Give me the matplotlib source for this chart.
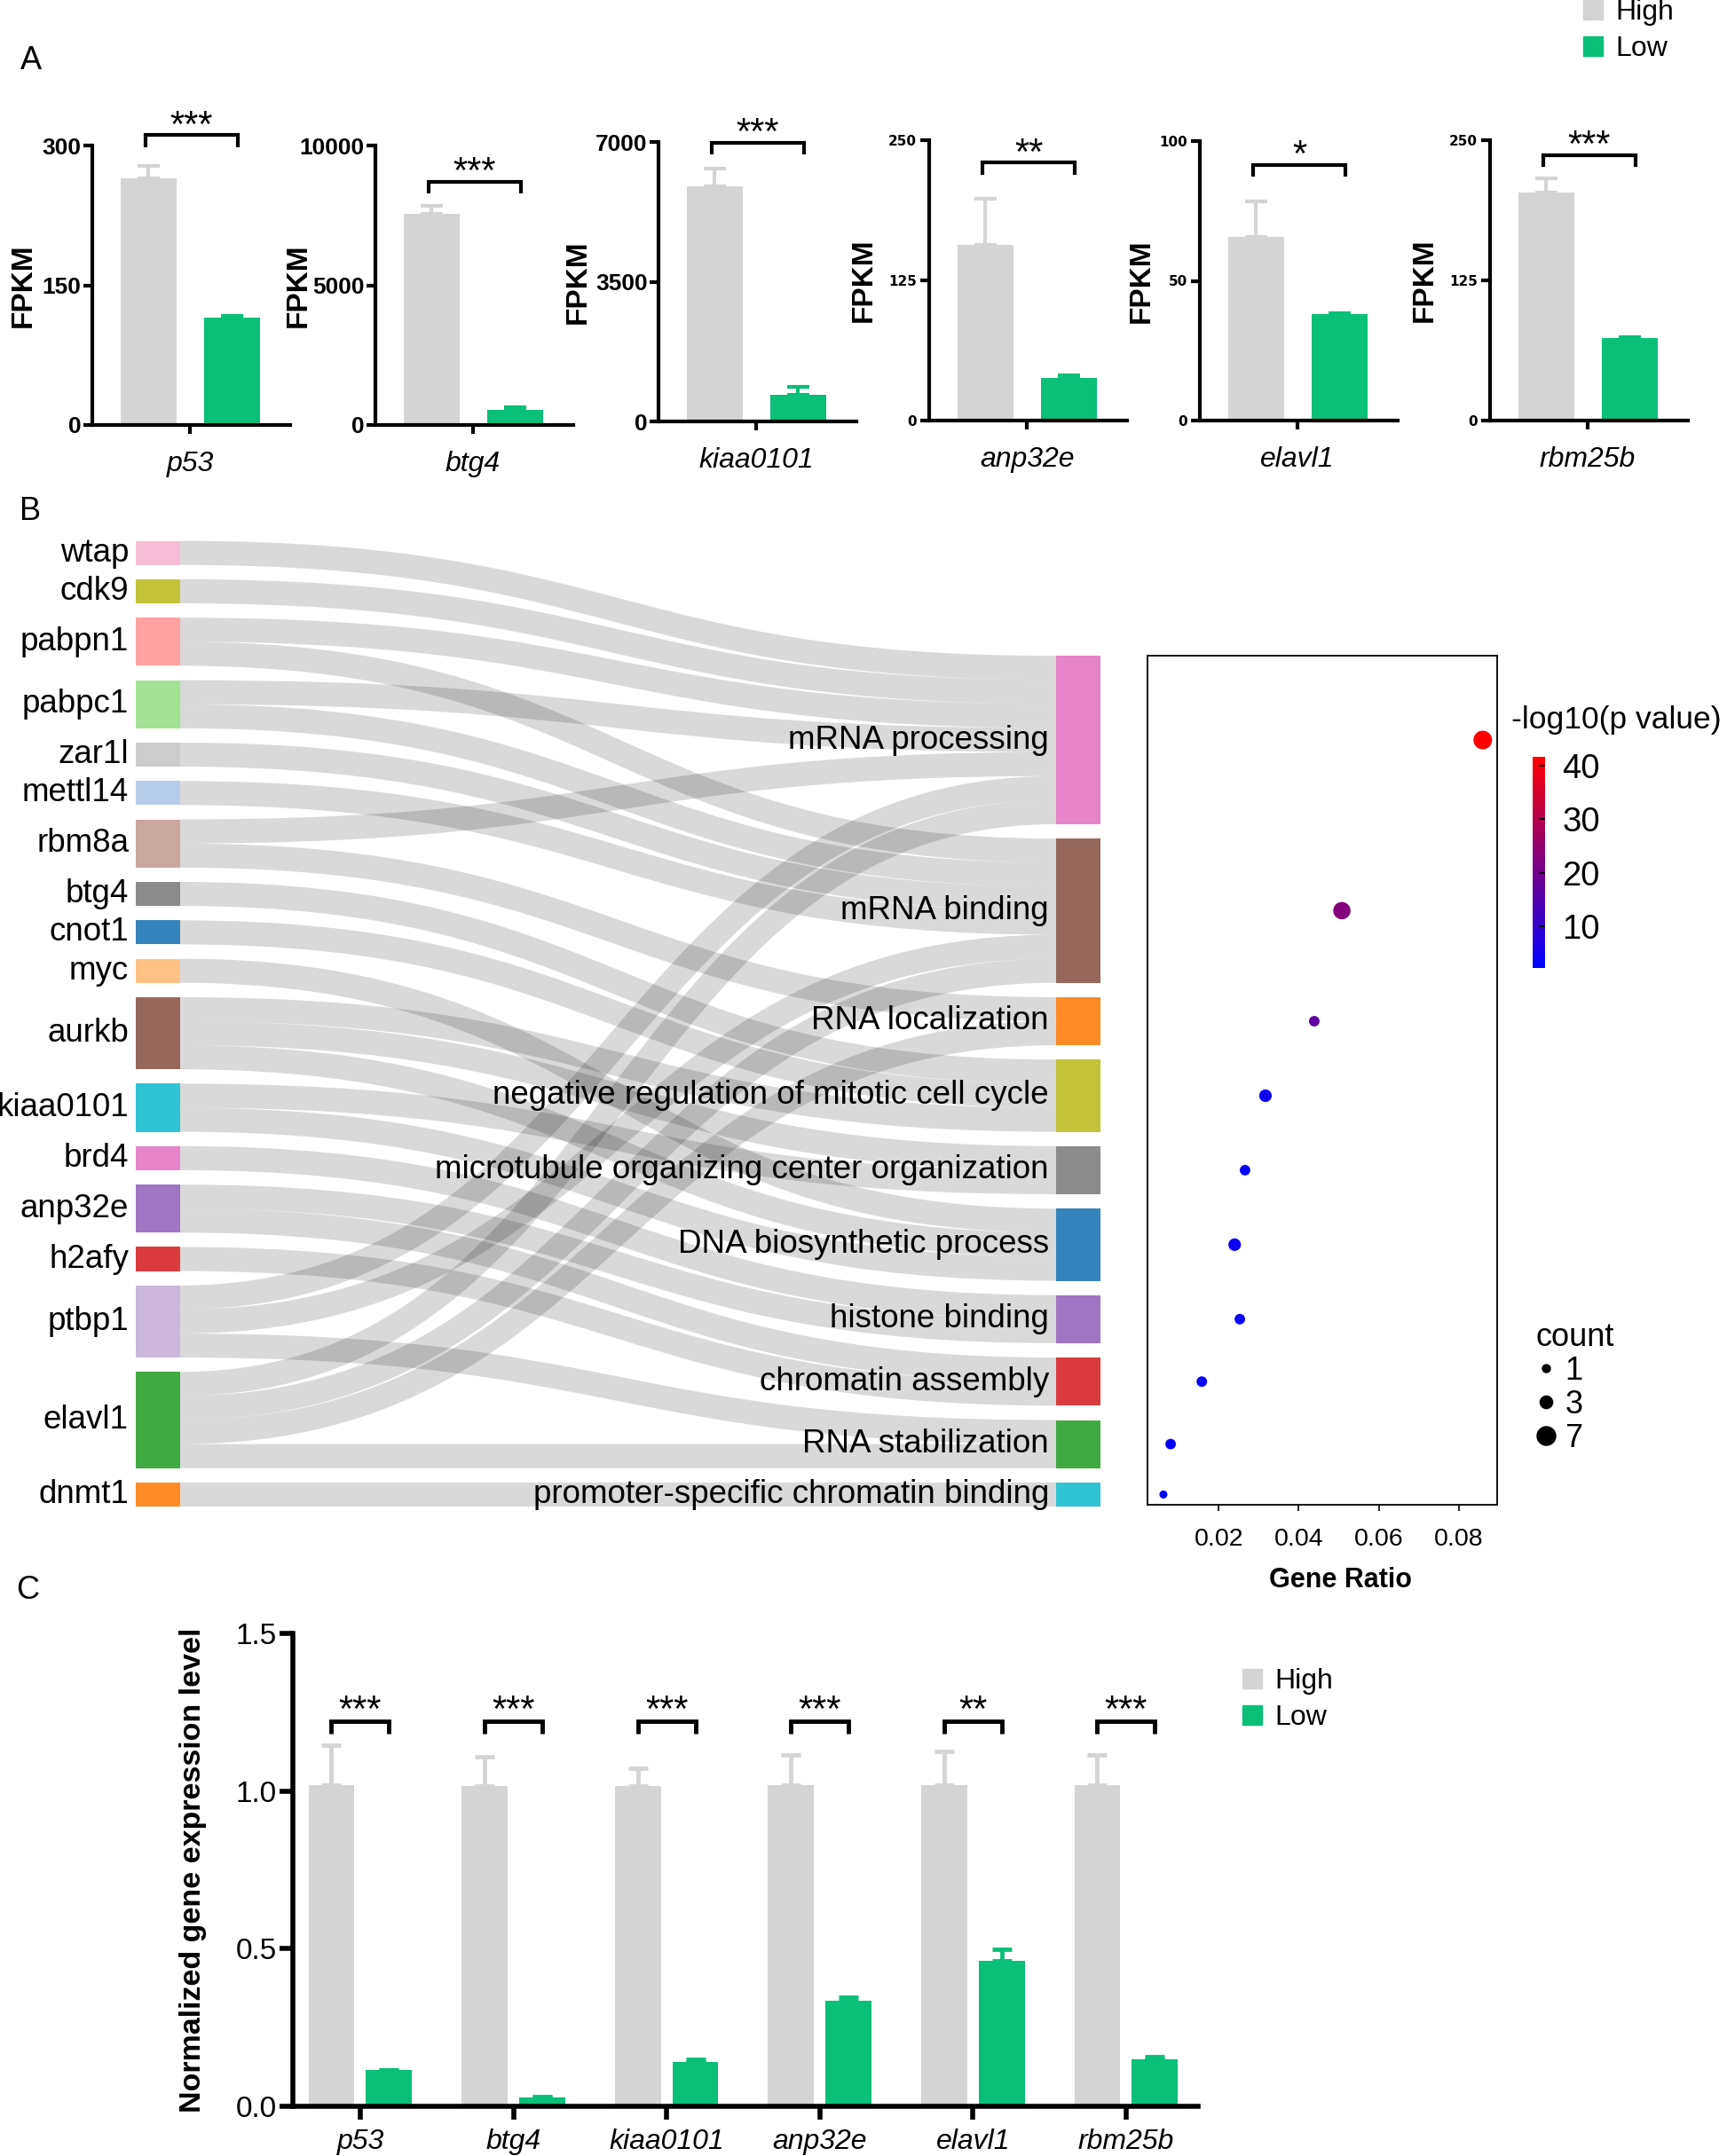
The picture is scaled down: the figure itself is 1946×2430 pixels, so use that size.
import numpy as np
import matplotlib
matplotlib.use("Agg")
import matplotlib.pyplot as plt
from matplotlib import font_manager
from matplotlib.path import Path
from matplotlib.patches import PathPatch, Rectangle, Patch
from matplotlib.lines import Line2D
from matplotlib.colors import LinearSegmentedColormap, Normalize
import matplotlib.colorbar as mcolorbar

# ---------------------------------------------------------------- data
genes = ["p53", "btg4", "kiaa0101", "anp32e", "elavl1", "rbm25b"]
groups = ["High", "Low"]

# Panel A (FPKM)
fpkm_high = [265, 7560, 5880, 157, 65.7, 203]
fpkm_high_err = [13, 290, 450, 41, 12.7, 13]
fpkm_low = [115, 550, 670, 38.0, 38.0, 73.7]
fpkm_low_err = [2, 95, 200, 2, 0.5, 0.6]
fpkm_axis_max = [300, 10000, 7000, 250, 100, 250]
fpkm_bracket = [311, 8707, 6984, 230, 91.5, 236.7]
fpkm_sig = ["***", "***", "***", "**", "*", "***"]

# Panel C (qPCR)
qpcr_high = [1.019, 1.016, 1.016, 1.018, 1.018, 1.018]
qpcr_high_err = [0.126, 0.093, 0.057, 0.097, 0.109, 0.097]
qpcr_low = [0.114, 0.029, 0.141, 0.335, 0.462, 0.148]
qpcr_low_err = [0.002, 0.002, 0.008, 0.012, 0.036, 0.009]
qpcr_bracket = [1.221, 1.221, 1.221, 1.221, 1.221, 1.221]
qpcr_sig = ["***", "***", "***", "***", "**", "***"]
qpcr_yticks = [0.0, 0.5, 1.0, 1.5]

# Panel B (Sankey + GO dot plot)
sankey_genes = ["wtap", "cdk9", "pabpn1", "pabpc1", "zar1l", "mettl14", "rbm8a",
                "btg4", "cnot1", "myc", "aurkb", "kiaa0101", "brd4", "anp32e",
                "h2afy", "ptbp1", "elavl1", "dnmt1"]
gene_colors = ["#f7b6d2", "#bcbd22", "#ff9896", "#98df8a", "#c7c7c7", "#aec7e8",
               "#c49c94", "#7f7f7f", "#1f77b4", "#ffbb78", "#8c564b", "#17becf",
               "#e377c2", "#9467bd", "#d62728", "#c5b0d5", "#2ca02c", "#ff7f0e"]
go_terms = ["mRNA processing", "mRNA binding", "RNA localization",
            "negative regulation of mitotic cell cycle",
            "microtubule organizing center organization",
            "DNA biosynthetic process", "histone binding", "chromatin assembly",
            "RNA stabilization", "promoter-specific chromatin binding"]
go_colors = ["#e377c2", "#8c564b", "#ff7f0e", "#bcbd22", "#7f7f7f", "#1f77b4",
             "#9467bd", "#d62728", "#2ca02c", "#17becf"]
link_source = ["wtap", "cdk9", "pabpn1", "pabpn1", "pabpc1", "pabpc1", "zar1l",
               "mettl14", "rbm8a", "rbm8a", "btg4", "cnot1", "myc",
               "aurkb", "aurkb", "aurkb", "kiaa0101", "kiaa0101", "brd4",
               "anp32e", "anp32e", "h2afy", "ptbp1", "ptbp1", "ptbp1",
               "elavl1", "elavl1", "elavl1", "elavl1", "dnmt1"]
link_target = ["mRNA processing", "mRNA processing", "mRNA processing", "mRNA binding",
               "mRNA processing", "mRNA binding", "mRNA binding",
               "mRNA binding", "mRNA processing", "RNA localization",
               "negative regulation of mitotic cell cycle",
               "negative regulation of mitotic cell cycle",
               "DNA biosynthetic process",
               "negative regulation of mitotic cell cycle",
               "microtubule organizing center organization",
               "DNA biosynthetic process",
               "microtubule organizing center organization",
               "DNA biosynthetic process", "histone binding",
               "histone binding", "chromatin assembly", "chromatin assembly",
               "mRNA processing", "mRNA binding", "RNA stabilization",
               "mRNA processing", "mRNA binding", "RNA localization", "RNA stabilization",
               "promoter-specific chromatin binding"]
go_gene_ratio = [0.0860, 0.0508, 0.0439, 0.0317, 0.0266, 0.0240, 0.0253, 0.0158, 0.0080, 0.0062]
go_neglog10p = [41.7, 22.5, 17.0, 4.5, 3.0, 4.0, 3.0, 2.8, 2.5, 2.2]
count_legend = [1, 3, 7]

# ---------------------------------------------------------------- setup
W, H, DPI = 1946, 2430, 100
PT = 72.0 / DPI
avail = {f.name for f in font_manager.fontManager.ttflist}
SANS = "Liberation Sans" if "Liberation Sans" in avail else "DejaVu Sans"
NARROW = "Liberation Sans Narrow" if "Liberation Sans Narrow" in avail else SANS
plt.rcParams["font.family"] = [SANS, "DejaVu Sans"]
plt.rcParams["axes.linewidth"] = 1.0

GRAY = "#d4d4d4"
GREEN = "#0abf78"

fig = plt.figure(figsize=(W / DPI, H / DPI), dpi=DPI)


def rect(x, y, w, h):
    return [x / W, 1 - (y + h) / H, w / W, h / H]


# panel letters
for letter, (x, y) in zip("ABC", [(35, 68), (34, 576), (31, 1792)]):
    fig.text(x / W, 1 - y / H, letter, fontsize=26, ha="center", va="center")

# ---------------------------------------------------------------- Panel A
A_left = [104, 423, 742, 1047, 1352, 1679]
A_top = [164, 164, 160, 158, 159, 158]
A_zero = [479, 479, 475, 474, 474, 474]
A_ylab_off = [79, 88, 92, 75, 67, 75]
A_w = 223
for i, g in enumerate(genes):
    ax = fig.add_axes(rect(A_left[i], A_top[i], A_w, A_zero[i] - A_top[i]))
    ymax = fpkm_axis_max[i]
    ax.set_xlim(-0.67, 1.70)
    ax.set_ylim(0, ymax)
    ax.bar([0, 1], [fpkm_high[i], fpkm_low[i]], width=0.67, color=[GRAY, GREEN], zorder=2)
    for xx, v, e, c in [(0, fpkm_high[i], fpkm_high_err[i], GRAY),
                        (1, fpkm_low[i], fpkm_low_err[i], GREEN)]:
        ax.errorbar([xx], [v], yerr=[[0], [e]], fmt="none", ecolor=c,
                    elinewidth=3, capsize=9, capthick=3, zorder=1, clip_on=False)
    for s in ["top", "right"]:
        ax.spines[s].set_visible(False)
    for s in ["left", "bottom"]:
        ax.spines[s].set_linewidth(3)
    ax.set_yticks([0, ymax / 2, ymax])
    ax.set_yticklabels([f"{int(v)}" for v in [0, ymax / 2, ymax]])
    if i < 3:
        ax.tick_params(axis="y", length=7, width=3, pad=2, labelsize=19)
        for t in ax.get_yticklabels():
            t.set_fontfamily(NARROW)
            t.set_fontweight("bold")
    else:
        ax.tick_params(axis="y", length=7, width=3, pad=3, labelsize=11)
        for t in ax.get_yticklabels():
            t.set_fontfamily("DejaVu Sans")
            t.set_fontweight("bold")
    ax.set_xticks([0.5])
    ax.set_xticklabels([g], fontstyle="italic", fontsize=23)
    ax.tick_params(axis="x", length=7, width=3, pad=14)
    ax.set_ylabel("FPKM", fontsize=24, fontweight="bold")
    ax.yaxis.set_label_coords(-(A_ylab_off[i] - 17) / A_w, 0.5)
    # bracket
    yb = fpkm_bracket[i]
    leg = 0.042 * ymax
    ax.plot([-0.03, -0.03, 1.07, 1.07], [yb - leg, yb, yb, yb - leg], color="black",
            lw=3, clip_on=False, solid_joinstyle="miter", solid_capstyle="butt")
    ax.annotate(fpkm_sig[i], xy=(0.52, yb), xytext=(0, -1), textcoords="offset points",
                ha="center", va="baseline", fontsize=30, annotation_clip=False)

fig.legend(handles=[Patch(color=GRAY), Patch(color=GREEN)], labels=groups,
           loc="upper left", bbox_to_anchor=(1784 / W, 1 - (-1) / H), frameon=False,
           fontsize=23, handlelength=0.68, handleheight=0.68, handletextpad=0.45,
           labelspacing=0.34, borderpad=0, borderaxespad=0)

# ---------------------------------------------------------------- Panel B: sankey
axS = fig.add_axes(rect(0, 560, 1260, 1180))
axS.set_xlim(0, 1260)
axS.set_ylim(1740, 560)
axS.axis("off")
unit, gap, base = 27.1, 16.2, 1698
xL0, xL1, xR0, xR1 = 153, 203, 1190, 1240

src_count = [link_source.count(n) for n in sankey_genes]
tgt_count = [link_target.count(t) for t in go_terms]


def stack(counts):
    total = sum(counts) * unit + (len(counts) - 1) * gap
    y = base - total
    tops = []
    for c in counts:
        tops.append(y)
        y += c * unit + gap
    return tops


left_tops = stack(src_count)
right_tops = stack(tgt_count)
s_idx = [sankey_genes.index(s) for s in link_source]
t_idx = [go_terms.index(t) for t in link_target]
n = len(link_source)
sy, ty = {}, {}
cur = list(left_tops)
for k in sorted(range(n), key=lambda k: (s_idx[k], t_idx[k])):
    sy[k] = cur[s_idx[k]]
    cur[s_idx[k]] += unit
cur = list(right_tops)
for k in sorted(range(n), key=lambda k: (t_idx[k], s_idx[k])):
    ty[k] = cur[t_idx[k]]
    cur[t_idx[k]] += unit
xm = (xL1 + xR0) / 2
for k in range(n):
    y0 = sy[k] + unit / 2
    y1 = ty[k] + unit / 2
    p = Path([(xL1, y0), (xm, y0), (xm, y1), (xR0, y1)],
             [Path.MOVETO, Path.CURVE4, Path.CURVE4, Path.CURVE4])
    axS.add_patch(PathPatch(p, fc="none", ec="black", alpha=0.15,
                            lw=unit * PT, capstyle="butt"))

for i, g in enumerate(sankey_genes):
    h = src_count[i] * unit
    axS.add_patch(Rectangle((xL0, left_tops[i]), xL1 - xL0, h, fc=gene_colors[i],
                            ec="none", alpha=0.9))
    axS.text(xL0 - 8, left_tops[i] + h / 2, g, ha="right", va="center", fontsize=26.5)
for i, t in enumerate(go_terms):
    h = tgt_count[i] * unit
    axS.add_patch(Rectangle((xR0, right_tops[i]), xR1 - xR0, h, fc=go_colors[i],
                            ec="none", alpha=0.9))
    axS.text(xR0 - 8, right_tops[i] + h / 2, t, ha="right", va="center", fontsize=26.5)

# ---------------------------------------------------------------- Panel B: dot plot
axD = fig.add_axes(rect(1293, 739, 394, 957))
axD.set_ylim(1696, 739)
axD.set_xlim(0.00222, 0.0896)
cmap = LinearSegmentedColormap.from_list("bluered", ["#0000ff", "#ff0000"])
norm = Normalize(min(go_neglog10p), max(go_neglog10p))


def dot_area(c):
    d_px = np.sqrt(81 + (np.asarray(c) - 1) * 60)
    return (d_px * PT) ** 2


go_centers = [right_tops[i] + tgt_count[i] * unit / 2 for i in range(len(go_terms))]
axD.scatter(go_gene_ratio, go_centers, s=dot_area(tgt_count), c=go_neglog10p,
            cmap=cmap, norm=norm, zorder=3, linewidths=0)
axD.set_yticks([])
axD.set_xticks([0.02, 0.04, 0.06, 0.08])
axD.set_xticklabels(["0.02", "0.04", "0.06", "0.08"])
axD.tick_params(axis="x", length=5, width=1.2, labelsize=20.5, pad=14)
for s in axD.spines.values():
    s.set_linewidth(1.3)
axD.set_xlabel("Gene Ratio", fontsize=22, fontweight="bold", labelpad=13)
axD.xaxis.label.set_x((1510 - 1293) / 394)

cax = fig.add_axes(rect(1727, 853, 14, 238))
cb = mcolorbar.ColorbarBase(cax, cmap=cmap, norm=norm, orientation="vertical")
cb.outline.set_visible(False)
cb.set_ticks([10, 20, 30, 40])
cax.tick_params(length=5, width=1.3, direction="in", color="black", labelsize=27.5, pad=14)
fig.text(1703 / W, 1 - 812 / H, "-log10(p value)", fontsize=25.5, ha="left", va="center")

size_handles = [Line2D([], [], ls="none", marker="o", color="black",
                       markersize=np.sqrt(dot_area(c))) for c in count_legend]
fig.legend(handles=size_handles, labels=[str(c) for c in count_legend], title="count",
           loc="upper left", bbox_to_anchor=(1731 / W, 1 - 1490 / H), frameon=False,
           fontsize=26, title_fontsize=26, alignment="left", handlelength=0.6,
           handletextpad=0.3, labelspacing=0.08, borderpad=0, borderaxespad=0)

# ---------------------------------------------------------------- Panel C
axC = fig.add_axes(rect(330, 1841, 1020, 2374 - 1841))
axC.set_ylim(0, 1.5)
axC.set_xlim(-0.44, 5.47)
xs = np.arange(len(genes))
off, bw = 0.188, 0.30
axC.bar(xs - off, qpcr_high, width=bw, color=GRAY, zorder=2)
axC.bar(xs + off, qpcr_low, width=bw, color=GREEN, zorder=2)
axC.errorbar(xs - off, qpcr_high, yerr=[np.zeros(len(xs)), qpcr_high_err], fmt="none",
             ecolor=GRAY, elinewidth=3.5, capsize=8, capthick=3.5, zorder=1)
axC.errorbar(xs + off, qpcr_low, yerr=[np.zeros(len(xs)), qpcr_low_err], fmt="none",
             ecolor=GREEN, elinewidth=3.5, capsize=8, capthick=3.5, zorder=1)
for s in ["top", "right"]:
    axC.spines[s].set_visible(False)
for s in ["left", "bottom"]:
    axC.spines[s].set_linewidth(4)
axC.set_yticks(qpcr_yticks)
axC.set_yticklabels([f"{v:.1f}" for v in qpcr_yticks])
axC.tick_params(axis="y", length=11, width=4, pad=2, labelsize=24)
axC.set_xticks(xs)
axC.set_xticklabels(genes, fontstyle="italic", fontsize=23)
axC.tick_params(axis="x", length=11, width=4, pad=7)
axC.set_ylabel("Normalized gene expression level", fontsize=24.5, fontweight="bold")
axC.yaxis.set_label_coords(-(330 - 214 - 19) / 1020, 0.5)
for i in range(len(genes)):
    yb = qpcr_bracket[i]
    leg = 0.04
    axC.plot([i - off, i - off, i + off, i + off], [yb - leg, yb, yb, yb - leg],
             color="black", lw=3.5, solid_joinstyle="miter", solid_capstyle="butt")
    axC.annotate(qpcr_sig[i], xy=(i, yb), xytext=(0, 0), textcoords="offset points",
                 ha="center", va="baseline", fontsize=30)
axC.legend(handles=[Patch(color=GRAY), Patch(color=GREEN)], labels=groups,
           loc="upper left", bbox_to_anchor=(1400 / W, 1 - 1880 / H),
           bbox_transform=fig.transFigure, frameon=False, fontsize=23,
           handlelength=0.68, handleheight=0.68, handletextpad=0.45,
           labelspacing=0.34, borderpad=0, borderaxespad=0)

fig.savefig("out.png", dpi=DPI)
